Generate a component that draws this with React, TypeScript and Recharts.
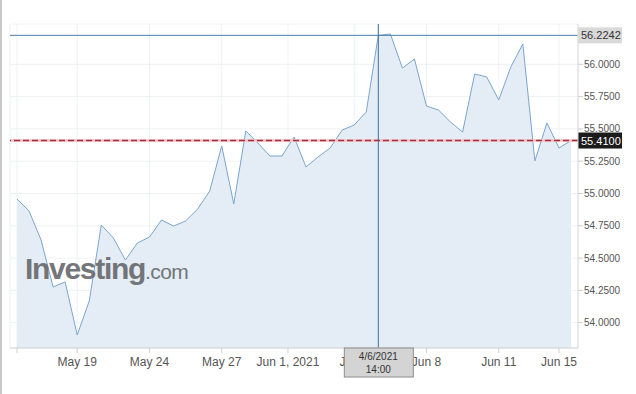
import { AreaChart, Area, XAxis, YAxis, CartesianGrid, ReferenceLine } from "recharts"

// hourly-ish closes, one point per half session
const prices = [
  54.957, 54.865, 54.64, 54.276, 54.315, 53.905, 54.168, 54.756, 54.656, 54.485,
  54.617, 54.663, 54.795, 54.748, 54.787, 54.88, 55.019, 55.368, 54.919, 55.484,
  55.391, 55.29, 55.29, 55.437, 55.205, 55.283, 55.352, 55.491, 55.53, 55.631,
  56.2242, 56.235, 55.971, 56.041, 55.677, 55.646, 55.553, 55.476, 55.925, 55.902,
  55.724, 55.979, 56.157, 55.252, 55.546, 55.352, 55.41,
]

const xTickIdx = [0, 5, 11, 17, 22.5, 28, 34, 40, 45]
const xTickLabels = ["", "May 19", "May 24", "May 27", "Jun 1, 2021", "Jun 4", "Jun 8", "Jun 11", "Jun 15"]
const yTicks = [54, 54.25, 54.5, 54.75, 55, 55.25, 55.5, 55.75, 56]

const lastPrice = 55.41
const hoverIdx = 30
const hoverDate = "4/6/2021"
const hoverTime = "14:00"

const data = prices.map((price, i) => ({ i, price }))

// hover tick goes last so its date box is painted over the other labels
const axisTicks = [...xTickIdx, hoverIdx]

const FONT = "'Liberation Sans', Arial, sans-serif"

function PriceTag(props: any) {
  const { viewBox, text, bg, color } = props
  if (!viewBox) return null
  const x = viewBox.x + viewBox.width
  const y = viewBox.y
  return (
    <g>
      <rect x={x} y={y - 8} width={44} height={16} fill={bg} />
      <text x={x + 3} y={y + 4} fontSize={11} fontFamily={FONT} fill={color}>
        {text}
      </text>
    </g>
  )
}

function XTick(props: any) {
  const { x, y, payload } = props
  if (payload.value === hoverIdx) {
    const top = y - 9
    return (
      <g>
        <rect x={x - 34} y={top} width={69} height={29} fill="#d4d4d4" stroke="#8c8c8c" />
        <text x={x} y={top + 12} textAnchor="middle" fontSize={10} fontFamily={FONT} fill="#333">
          {hoverDate}
        </text>
        <text x={x} y={top + 25} textAnchor="middle" fontSize={10} fontFamily={FONT} fill="#333">
          {hoverTime}
        </text>
      </g>
    )
  }
  const label = xTickLabels[xTickIdx.indexOf(payload.value)] ?? ""
  return (
    <text x={x} y={y} dy="0.71em" textAnchor="middle" fontSize={12} fontFamily={FONT} fill="#555">
      {label}
    </text>
  )
}

export default function App() {
  return (
    <div style={{ position: "relative", width: 636, height: 394, background: "#fff", overflow: "hidden" }}>
      <style>{`body{margin:0}`}</style>
      <div style={{ position: "absolute", left: 0, top: 0, width: 2, height: 394, background: "#c9c9c9" }} />
      <AreaChart
        width={636}
        height={394}
        data={data}
        margin={{ top: 24, right: 0, bottom: 0, left: 10 }}
        style={{ position: "absolute", left: 0, top: 0 }}
      >
        <CartesianGrid stroke="#eef1f4" />
        <XAxis
          dataKey="i"
          type="number"
          domain={[-0.58, 46.58]}
          ticks={axisTicks}
          interval={0}
          height={46}
          axisLine={{ stroke: "#d0d0d0" }}
          tickLine={{ stroke: "#d0d0d0" }}
          tickSize={5}
          tickMargin={4}
          tick={<XTick />}
        />
        <YAxis
          orientation="right"
          type="number"
          domain={[53.804, 56.312]}
          ticks={yTicks}
          tickFormatter={(v: number) => v.toFixed(4)}
          interval={0}
          width={58}
          axisLine={{ stroke: "#dcdcdc" }}
          tickLine={{ stroke: "#cfcfcf" }}
          tickSize={5}
          tickMargin={1}
          tick={{ fontSize: 10, fill: "#555", fontFamily: FONT, textAnchor: "start" }}
        />
        <Area
          type="linear"
          dataKey="price"
          stroke="#7ba6cd"
          strokeWidth={1}
          fill="#e4edf6"
          fillOpacity={1}
          dot={false}
          activeDot={false}
          isAnimationActive={false}
        />
        <ReferenceLine y={lastPrice} stroke="#f6c8ce" strokeWidth={3} />
        <ReferenceLine
          y={lastPrice}
          stroke="#a3303d"
          strokeWidth={1.5}
          strokeDasharray="6 3"
          label={<PriceTag text={lastPrice.toFixed(4)} bg="#1b1b1b" color="#fff" />}
        />
        <ReferenceLine
          y={prices[hoverIdx]}
          stroke="#4d7ea9"
          strokeWidth={1}
          label={<PriceTag text={prices[hoverIdx].toFixed(4)} bg="#d9d9d9" color="#333" />}
        />
        <ReferenceLine x={hoverIdx} stroke="#3d6f9f" strokeWidth={1} />
      </AreaChart>
      <div
        style={{
          position: "absolute",
          left: 25,
          top: 252,
          fontFamily: FONT,
          color: "#67686b",
          opacity: 0.9,
          whiteSpace: "nowrap",
          pointerEvents: "none",
        }}
      >
        <span style={{ fontSize: 30, fontWeight: 700, letterSpacing: -1.3 }}>Investing</span>
        <span style={{ fontSize: 21, letterSpacing: -0.6 }}>.com</span>
      </div>
    </div>
  )
}
